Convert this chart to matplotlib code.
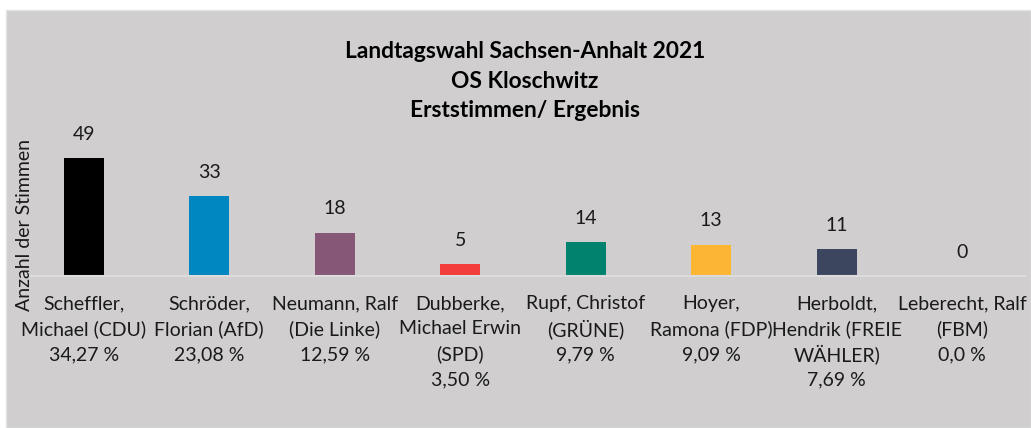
import matplotlib.pyplot as plt
from matplotlib.patches import Rectangle

candidates = [
    "Scheffler,\nMichael (CDU)\n34,27 %",
    "Schröder,\nFlorian (AfD)\n23,08 %",
    "Neumann, Ralf\n(Die Linke)\n12,59 %",
    "Dubberke,\nMichael Erwin\n(SPD)\n3,50 %",
    "Rupf, Christof\n(GRÜNE)\n9,79 %",
    "Hoyer,\nRamona (FDP)\n9,09 %",
    "Herboldt,\nHendrik (FREIE\nWÄHLER)\n7,69 %",
    "Leberecht, Ralf\n(FBM)\n0,0 %",
]
votes = [49, 33, 18, 5, 14, 13, 11, 0]
colors = ["#000000", "#0086C0", "#875777", "#F23D3A",
          "#00826E", "#FDB633", "#3C465F", "#808080"]

W, H = 1031, 428
plt.rcParams['font.family'] = ['Lato', 'DejaVu Sans']

fig = plt.figure(figsize=(W / 100, H / 100), dpi=100, facecolor="white")

# grey chart area
fig.patches.append(Rectangle((6 / W, 0), 1 - 6 / W, 1 - 10 / H,
                             transform=fig.transFigure, facecolor="#D0CECE",
                             edgecolor="#E3E3E3", linewidth=1, zorder=-1))

left, right = 21 / W, 1025 / W
base = 276
ymax = 60
px_per_unit = 2.41
top = base - ymax * px_per_unit
ax = fig.add_axes([left, (H - base) / H, right - left, (base - top) / H])
ax.set_facecolor("none")

x = range(len(votes))
ax.bar(x, votes, width=0.32, color=colors, zorder=2)
ax.set_xlim(-0.5, len(votes) - 0.5)
ax.set_ylim(0, ymax)

for xi, v in zip(x, votes):
    ax.annotate(str(v), (xi, v), xytext=(0, 11), textcoords="offset points",
                ha="center", va="bottom", fontsize=14, color="#1a1a1a")

# category labels, one text per line so the spacing stays even
for xi, lab in zip(x, candidates):
    for i, line in enumerate(lab.split("\n")):
        ax.annotate(line, (xi, 0), xycoords=("data", "axes fraction"),
                    xytext=(0, -18.7 - 18.36 * i), textcoords="offset points",
                    ha="center", va="center_baseline", fontsize=14,
                    color="#1a1a1a", annotation_clip=False)

for s in ["top", "right", "left"]:
    ax.spines[s].set_visible(False)
ax.spines["bottom"].set_color("#DCDCDC")
ax.spines["bottom"].set_linewidth(1.5)
ax.spines["bottom"].set_zorder(3)
ax.set_yticks([])
ax.set_xticks([])

fig.text(25 / W, (H - 225) / H, "Anzahl der Stimmen", rotation=90,
         ha="center", va="center", fontsize=14, color="#1a1a1a")

fig.text(525 / W, (H - 81) / H,
         "Landtagswahl Sachsen-Anhalt 2021\nOS Kloschwitz\nErststimmen/ Ergebnis",
         ha="center", va="center", fontsize=16.4, fontweight="bold",
         linespacing=1.5, color="#000000")

fig.savefig("out.png", dpi=100, facecolor="white")
